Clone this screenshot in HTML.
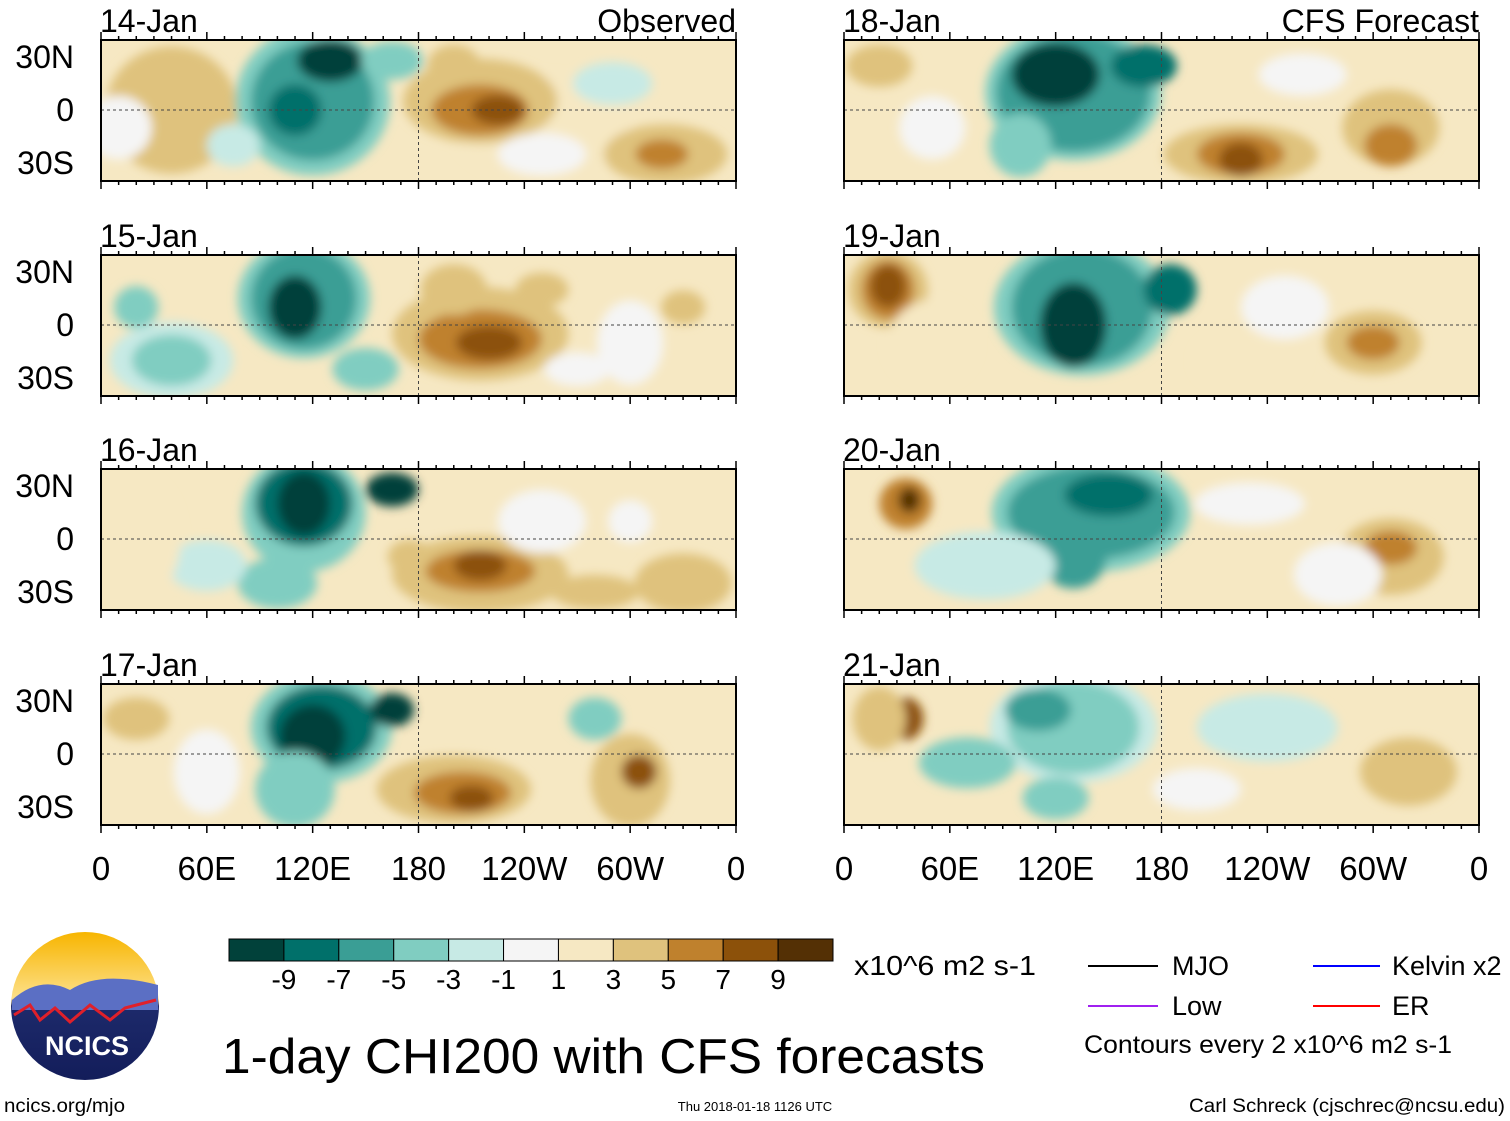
<!DOCTYPE html>
<html><head><meta charset="utf-8"><style>
body{margin:0;background:#fff;}
svg{display:block;font-family:"Liberation Sans",sans-serif;}
</style></head><body>
<svg id="chart" width="1510" height="1121" viewBox="0 0 1510 1121" xmlns="http://www.w3.org/2000/svg">
<defs>
<filter id="blur" x="-20%" y="-20%" width="140%" height="140%"><feGaussianBlur stdDeviation="5"/></filter>
<linearGradient id="sky" x1="0" y1="0" x2="0" y2="1"><stop offset="0" stop-color="#f7b500"/><stop offset="0.45" stop-color="#fde08a"/><stop offset="0.5" stop-color="#1d2a6b"/><stop offset="1" stop-color="#131d5a"/></linearGradient>
</defs>
<g id="panels"></g>
<g id="colorbar"></g>
<text x="854" y="975" font-size="28" textLength="182" lengthAdjust="spacingAndGlyphs">x10^6 m2 s-1</text>
<text x="222" y="1073" font-size="49" textLength="763" lengthAdjust="spacingAndGlyphs">1-day CHI200 with CFS forecasts</text>
<g font-size="27">
<line x1="1088" y1="966" x2="1158" y2="966" stroke="#000" stroke-width="2"/><text x="1172" y="975">MJO</text>
<line x1="1088" y1="1006" x2="1158" y2="1006" stroke="#a020f0" stroke-width="2"/><text x="1172" y="1015">Low</text>
<line x1="1313" y1="966" x2="1380" y2="966" stroke="#0000ff" stroke-width="2"/><text x="1392" y="975">Kelvin x2</text>
<line x1="1313" y1="1006" x2="1380" y2="1006" stroke="#ff0000" stroke-width="2"/><text x="1392" y="1015">ER</text>
<text x="1084" y="1053" font-size="25" textLength="368" lengthAdjust="spacingAndGlyphs">Contours every 2 x10^6 m2 s-1</text>
</g>
<g>
<circle cx="85" cy="1006" r="74" fill="url(#sky)"/>
<path d="M12,1000 Q40,975 70,990 Q100,970 158,985 L158,1010 L12,1010Z" fill="#5b6fc4"/>
<path d="M14,1015 L30,1005 L40,1020 L55,1008 L70,1022 L90,1005 L110,1020 L125,1008 L156,1000" stroke="#e0202a" stroke-width="3" fill="none"/>
<text x="87" y="1055" font-size="27" font-weight="bold" fill="#fff" text-anchor="middle">NCICS</text>
</g>
<text x="4" y="1112" font-size="19" textLength="121" lengthAdjust="spacingAndGlyphs">ncics.org/mjo</text>
<text x="755" y="1111" font-size="13" text-anchor="middle">Thu 2018-01-18 1126 UTC</text>
<text x="1189" y="1112" font-size="19" textLength="316" lengthAdjust="spacingAndGlyphs">Carl Schreck (cjschrec@ncsu.edu)</text>
</svg>
<script>
const colors=["#01413a","#00706a","#3a9e95","#80cdc1","#c7eae5","#f5f5f5","#f6e8c3","#dfc27d","#bf812d","#8c510a","#543005"];
const cbLabels=["-9","-7","-5","-3","-1","1","3","5","7","9"];
const panelTitles=["14-Jan","15-Jan","16-Jan","17-Jan","18-Jan","19-Jan","20-Jan","21-Jan"];
const latTicks=[30,0,-30];
const latLabels=["30N","0","30S"];
const lonTicks=[0,60,120,180,240,300,360];
const lonLabels=["0","60E","120E","180","120W","60W","0"];
// blobs: [lon, lat, rxDeg, ryDeg, colorLevel]
const blobs0=[[40,0,30,30,7],[250,-10,40,25,6],[120,5,35,35,3],[120,5,28,28,2],[130,28,15,10,0],[110,0,12,12,1],[165,28,14,9,3],[215,5,35,20,7],[215,0,22,12,8],[225,0,12,7,9],[200,25,12,10,7],[320,-25,28,14,7],[318,-25,12,7,8],[60,0,12,12,7],[75,-20,12,10,4],[290,15,18,10,4],[30,20,10,10,7],[250,-25,20,10,5],[10,-10,15,15,5]];
const blobs1=[[115,15,30,28,3],[115,15,24,24,2],[110,10,12,15,0],[40,-20,28,18,4],[40,-20,18,12,3],[20,10,10,10,3],[215,-5,40,22,7],[215,-8,28,14,8],[220,-10,15,8,9],[200,20,15,12,7],[250,20,12,8,7],[300,-10,15,20,5],[150,-25,15,10,3],[330,10,10,8,7],[270,-25,15,8,5]];
const blobs2=[[115,15,28,28,3],[115,20,22,20,1],[115,20,12,15,0],[165,28,12,8,0],[100,-25,18,12,3],[60,-15,18,12,4],[215,-20,40,18,7],[215,-18,25,10,8],[215,-15,12,7,9],[175,-10,10,8,7],[280,-30,20,8,7],[330,-25,22,14,7],[20,0,20,30,6],[250,10,20,15,5],[300,10,10,10,5]];
const blobs3=[[125,15,32,26,3],[125,15,25,20,1],[120,10,15,15,0],[165,25,10,8,0],[110,-20,18,18,3],[200,-20,35,16,7],[205,-22,22,10,8],[210,-25,10,6,9],[300,-15,18,22,7],[305,-10,8,8,9],[280,20,12,10,3],[20,20,15,10,7],[60,-10,15,20,5]];
const blobs4=[[130,10,40,32,3],[130,10,35,28,2],[120,20,20,15,0],[170,25,15,10,1],[100,-20,14,15,3],[20,25,15,10,7],[225,-25,35,14,7],[225,-25,20,10,8],[225,-28,10,8,9],[310,-10,22,18,7],[310,-20,12,10,8],[260,20,20,10,5],[50,-10,15,15,5]];
const blobs5=[[135,10,40,32,3],[135,10,32,28,2],[130,0,15,20,0],[185,20,12,12,1],[25,20,18,18,7],[25,20,12,14,8],[25,22,8,10,9],[300,-10,22,15,7],[300,-10,12,8,8],[50,-10,20,20,6],[230,-20,25,15,6],[250,10,20,15,5]];
const blobs6=[[140,15,45,28,3],[140,15,38,22,2],[150,25,20,10,1],[130,-10,15,15,2],[80,-15,32,16,4],[35,20,12,12,8],[37,22,5,6,10],[310,-10,24,18,7],[310,-5,12,8,8],[230,20,25,10,5],[280,-20,20,15,5]];
const blobs7=[[130,15,38,26,4],[130,15,30,22,3],[110,25,15,10,2],[240,15,32,16,4],[70,-5,22,12,3],[35,20,8,10,9],[20,20,12,15,7],[320,-10,22,16,7],[120,-25,15,10,3],[200,-20,20,10,5]];
const allBlobs=[blobs0,blobs1,blobs2,blobs3,blobs4,blobs5,blobs6,blobs7];

const NS="http://www.w3.org/2000/svg";
function mk(tag,attrs,parent){const e=document.createElementNS(NS,tag);for(const k in attrs)e.setAttribute(k,attrs[k]);parent.appendChild(e);return e;}
const W=635,H=141,tops=[40,255,469,684],lefts=[101,844];
const root=document.getElementById('panels');
const defs=document.querySelector('defs');
for(let p=0;p<8;p++){
  const x0=lefts[Math.floor(p/4)],y0=tops[p%4];
  const xs=lon=>x0+lon/360*W;
  const ys=lat=>y0+70-lat*1.767;
  const g=mk('g',{},root);
  
  
  const cp=mk('clipPath',{id:'cp'+p},defs);
  mk('rect',{x:x0,y:y0,width:W,height:H},cp);
  const field=mk('g',{'clip-path':'url(#cp'+p+')'},g);
  mk('rect',{x:x0,y:y0,width:W,height:H,fill:colors[6]},field);
  const fg=mk('g',{filter:'url(#blur)'},field);
  allBlobs[p].forEach(b=>{
    const e=mk('ellipse',{cx:xs(b[0]),cy:ys(b[1]),rx:b[2]/360*W*1.25,ry:b[3]*1.767*1.2,fill:colors[b[4]]},fg);
    
    
  });
  mk('line',{x1:x0,y1:ys(0),x2:x0+W,y2:ys(0),stroke:'#444','stroke-dasharray':'3,3','stroke-width':1},field);
  mk('line',{x1:xs(180),y1:y0,x2:xs(180),y2:y0+H,stroke:'#444','stroke-dasharray':'3,3','stroke-width':1},field);
  mk('rect',{x:x0,y:y0,width:W,height:H,fill:'none',stroke:'#000','stroke-width':2},g);
  for(let l=0;l<=360;l+=10){const len=l%60===0?8:4;const X=xs(l);
    mk('line',{x1:X,y1:y0,x2:X,y2:y0-len,stroke:'#000','stroke-width':1.5},g);
    mk('line',{x1:X,y1:y0+H,x2:X,y2:y0+H+len,stroke:'#000','stroke-width':1.5},g);}
  const t=mk('text',{x:x0-1,y:y0-8,'font-size':32},g);t.textContent=panelTitles[p];
  
  if(p===0||p===4){const s=mk('text',{x:x0+W,y:y0-8,'font-size':32,'text-anchor':'end'},g);s.textContent=p===0?'Observed':'CFS Forecast';
    }
  if(p<4){latTicks.forEach((lt,i)=>{const s=mk('text',{x:74,y:ys(lt)+11,'font-size':32,'text-anchor':'end'},g);s.textContent=latLabels[i];
    });}
  if(p%4===3){lonTicks.forEach((ln,i)=>{const s=mk('text',{x:xs(ln),y:880,'font-size':33,'text-anchor':'middle'},g);s.textContent=lonLabels[i];
    });}
}
const cb=document.getElementById('colorbar');
const cbx=229,cbw=604/11;
colors.forEach((c,i)=>{const r=mk('rect',{x:cbx+i*cbw,y:939,width:cbw,height:22,fill:c,stroke:'#000','stroke-width':1},cb);
  });
cbLabels.forEach((l,i)=>{const s=mk('text',{x:cbx+(i+1)*cbw,y:989,'font-size':28,'text-anchor':'middle'},cb);s.textContent=l;
  });
</script>
</body></html>
